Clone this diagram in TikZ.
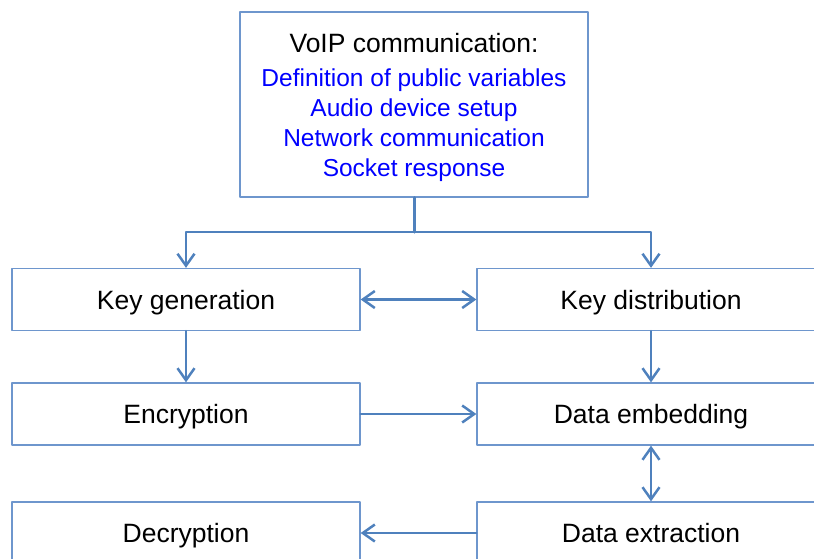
\documentclass[tikz,border=0pt]{standalone}
\usepackage{fontspec}
\setmainfont{Liberation Sans}
\usepackage{xcolor}
\usetikzlibrary{arrows.meta,positioning,calc}
\definecolor{linkblue}{RGB}{79,129,189}
\definecolor{boxblue}{RGB}{110,150,205}
\definecolor{textblue}{RGB}{0,0,255}

\begin{document}
\begin{tikzpicture}[x=1pt,y=-1pt,line cap=round,line join=round,
    >={Straight Barb[length=12pt,width=17pt]},
    framebox/.style={draw=boxblue,line width=1.3pt,minimum width=348pt,inner sep=0pt,
        font=\fontsize{26.5}{30}\selectfont},
    stepbox/.style={framebox,minimum height=62pt,text height=19pt,text depth=0pt},
    link/.style={draw=linkblue,line width=2.5pt}]
                \useasboundingbox (0,0) rectangle (814,558);
                \node [framebox,minimum height=185pt,align=center] (voip) at (414,104.5) {\raisebox{0pt}[25pt][0pt]{VoIP communication:}\\[4pt]
                    {\fontsize{24.5}{29.5}\selectfont\color{textblue}Definition of public variables}\\
                    {\fontsize{24.5}{29.5}\selectfont\color{textblue}Audio device setup}\\
                    {\fontsize{24.5}{29.5}\selectfont\color{textblue}Network communication}\\
                    {\fontsize{24.5}{29.5}\selectfont\color{textblue}Socket response}};
                \node [stepbox] (keygen) at (186,299.5) {Key generation};
                \node [stepbox] (keydist) at (651,299.5) {Key distribution};
                \node [stepbox] (encrypt) at (186,414) {Encryption};
                \node [stepbox] (embed) at (651,414) {Data embedding};
                \node [stepbox] (decrypt) at (186,533) {Decryption};
                \node [stepbox] (extract) at (651,533) {Data extraction};
                \coordinate (split) at (voip.south |- 0,232);
                \draw [link,line width=3pt] (voip.south) -- (split);
                \draw [link,->] (split) -| (keygen.north);
                \draw [link,->] (split) -| (keydist.north);
                \draw [link,<->] (keygen.east) -- (keydist.west);
                \draw [link,->] (keygen.south) -- (encrypt.north);
                \draw [link,->] (keydist.south) -- (embed.north);
                \draw [link,->] (encrypt.east) -- (embed.west);
                \draw [link,<->] (embed.south) -- (extract.north);
                \draw [link,->] (extract.west) -- (decrypt.east);
\end{tikzpicture}
\end{document}
